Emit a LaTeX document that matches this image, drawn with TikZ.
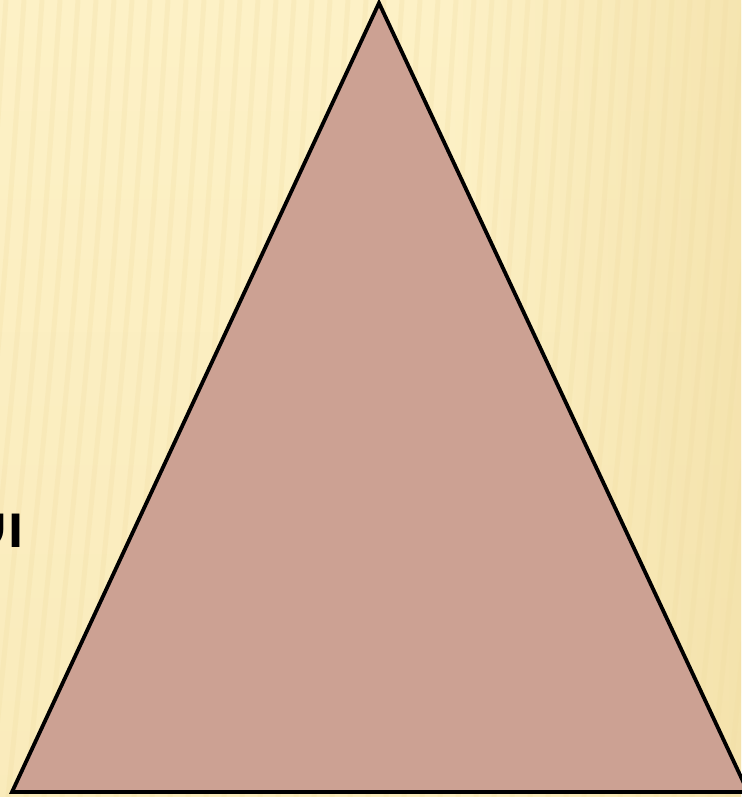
\documentclass[tikz,border=0pt]{standalone}
\usepackage{fontspec}
\newfontfamily\arabicfont[Script=Arabic]{DejaVu Sans}
\TeXXeTstate=1
\usepackage{tikz}
\definecolor{bgcream}{HTML}{FDF1C6}
\definecolor{bgsand}{HTML}{F1DDA2}
\definecolor{pyrfill}{HTML}{CCA193}
\tikzset{
  pyr face/.style={draw=black, fill=pyrfill, line width=3.8pt, line join=miter},
  pyr label/.style={font=\arabicfont\bfseries\fontsize{44}{50}\selectfont, inner sep=0pt},
  bg stripe/.style={line width=5pt, draw=bgsand, opacity=0.25},
}
\begin{document}
\begin{tikzpicture}[x=1pt, y=-1pt]
 \useasboundingbox (0,0) rectangle (741,797);
 % background
 \begin{scope}
  \clip (0,0) rectangle (741,797);
  \shade[top color=bgcream, bottom color=bgcream!70!bgsand] (0,0) rectangle (741,797);
  \shade[left color=bgcream, right color=bgsand, opacity=0.6] (450,0) rectangle (741,797);
  \foreach \sx in {-120,-102,...,800}
   \draw[bg stripe] (\sx,0) .. controls (\sx-20,300) .. (\sx-70,797);
 \end{scope}
 % pyramid
 \coordinate (apex) at (379,3);
 \coordinate (base left) at (12,792);
 \coordinate (base right) at (748,792);
 \draw[pyr face] (apex) -- (base right) -- (base left) -- cycle;
 \node[pyr label, anchor=east] (word) at (24,527) {\beginR الأ\endR};
\end{tikzpicture}
\end{document}
